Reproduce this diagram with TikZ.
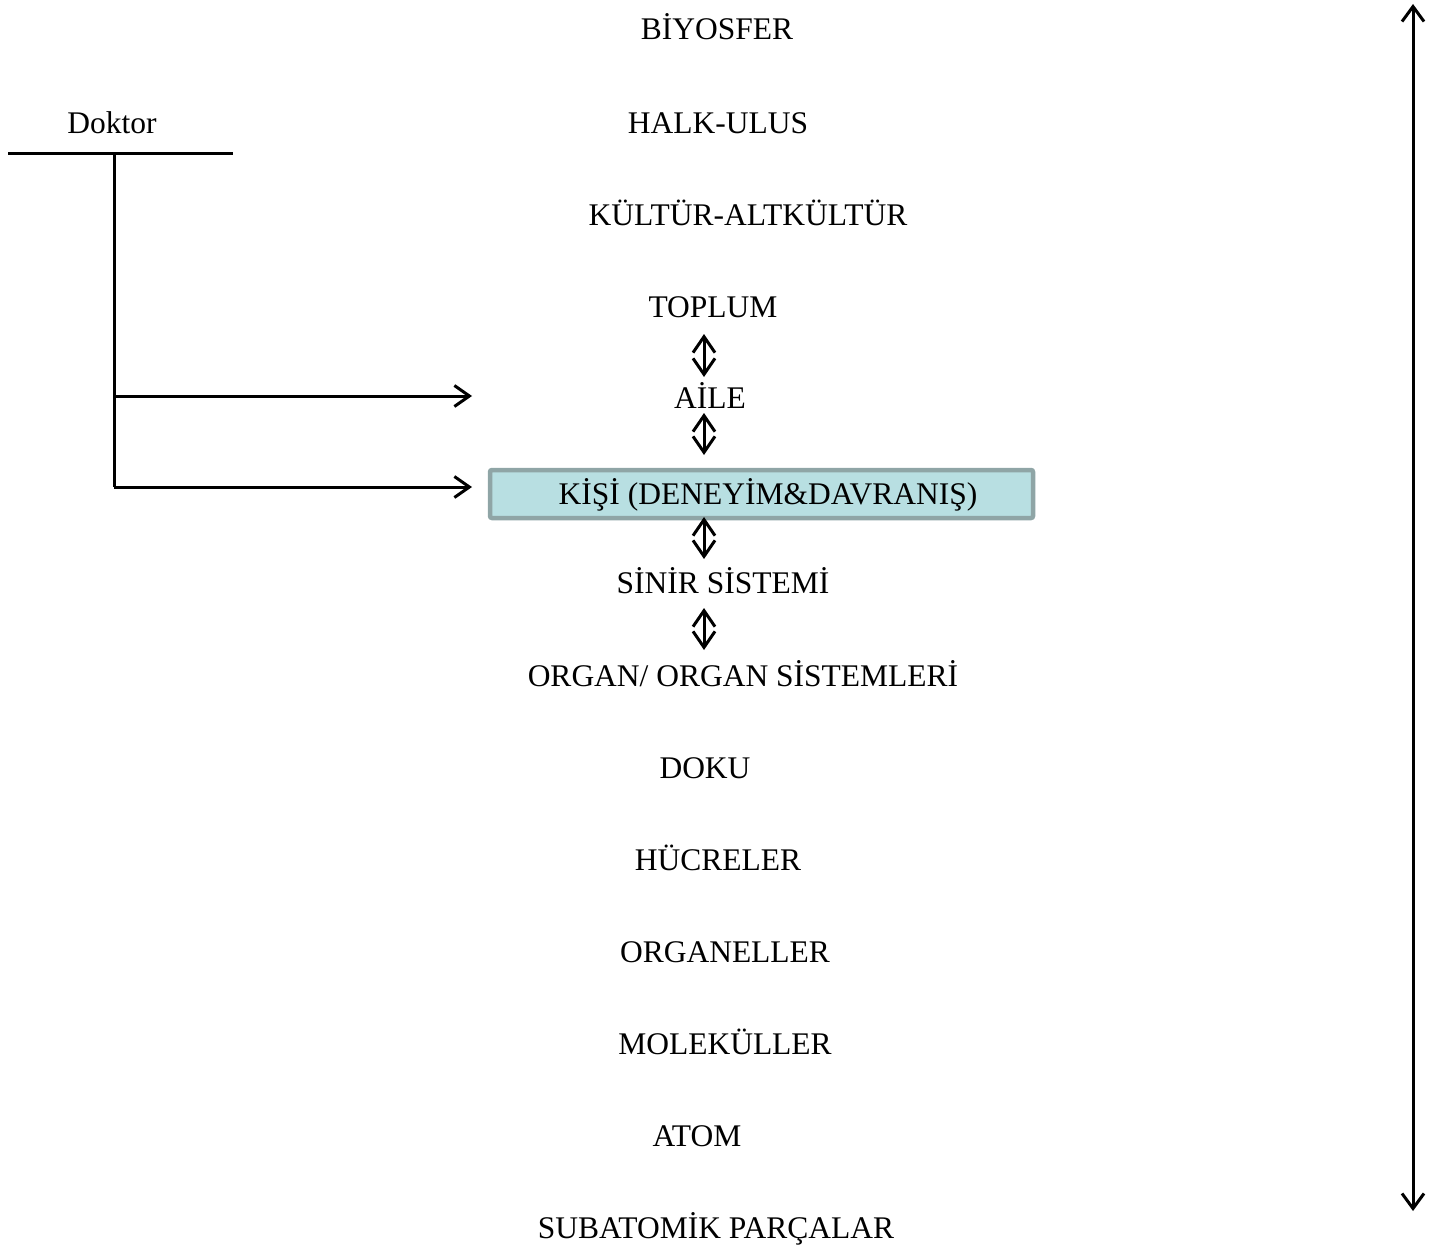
\documentclass[tikz,border=0pt]{standalone}
\usepackage{fontspec}
\setmainfont{Liberation Serif}
\usetikzlibrary{arrows.meta}
\definecolor{boxfill}{HTML}{B8DFE2}
\definecolor{boxline}{HTML}{8FA5A6}
\tikzset{
  lvl/.style={anchor=base, inner sep=0pt, font=\fontsize{31.5}{36}\selectfont},
  dbl/.style={line width=3pt, {Straight Barb[length=16pt,width=22pt]}-{Straight Barb[length=16pt,width=22pt]}},
  tree/.style={line width=3pt},
  treearrow/.style={line width=3pt, -{Straight Barb[length=15pt,width=21pt]}},
  bigarrow/.style={line width=3pt, {Straight Barb[length=15pt,width=22pt]}-{Straight Barb[length=15pt,width=22pt]}},
  kisibox/.style={draw=boxline, fill=boxfill, line width=4.5pt, rounded corners=2pt, minimum width=543pt, minimum height=48pt, inner sep=0pt}
}
\begin{document}
\begin{tikzpicture}[x=1pt,y=-1pt]
\useasboundingbox (0,0) rectangle (1431,1247);
% levels
\node[lvl] (biyosfer) at (717,40) {BİYOSFER};
\node[lvl] (halk) at (718,133) {HALK-ULUS};
\node[lvl] (kultur) at (748,225) {KÜLTÜR-ALTKÜLTÜR};
\node[lvl] (toplum) at (713,317) {TOPLUM};
\node[lvl] (aile) at (710,408) {AİLE};
\node[kisibox] (kisi) at (761.5,494) {};
\node[lvl] (kisitext) at (768,504) {KİŞİ (DENEYİM\&DAVRANIŞ)};
\node[lvl] (sinir) at (723,593) {SİNİR SİSTEMİ};
\node[lvl] (organ) at (743,686) {ORGAN/ ORGAN SİSTEMLERİ};
\node[lvl] (doku) at (705,778) {DOKU};
\node[lvl] (hucre) at (718,870) {HÜCRELER};
\node[lvl] (organel) at (725,962) {ORGANELLER};
\node[lvl] (molekul) at (725,1054) {MOLEKÜLLER};
\node[lvl] (atom) at (697,1146) {ATOM};
\node[lvl] (subatom) at (716,1238) {SUBATOMİK PARÇALAR};
% double arrows between levels
\coordinate (d1a) at (704,334); \coordinate (d1b) at (704,377);
\coordinate (d2a) at (704,413); \coordinate (d2b) at (704,455);
\coordinate (d3a) at (704,517); \coordinate (d3b) at (704,559);
\coordinate (d4a) at (704,608); \coordinate (d4b) at (704,650);
\draw[dbl] (d1a) -- (d1b);
\draw[dbl] (d2a) -- (d2b);
\draw[dbl] (d3a) -- (d3b);
\draw[dbl] (d4a) -- (d4b);
% right scale arrow
\coordinate (scaletop) at (1413,4);
\coordinate (scalebot) at (1413,1211);
\draw[bigarrow] (scaletop) -- (scalebot);
% Doktor tree
\node[lvl] (doktor) at (112,133) {Doktor};
\coordinate (hl) at (8,153);
\coordinate (hr) at (233,153);
\coordinate (vt) at (114,153);
\coordinate (v1) at (114,396);
\coordinate (v2) at (114,487);
\coordinate (t1) at (472,396);
\coordinate (t2) at (472,487);
\draw[tree] (hl) -- (hr);
\draw[tree] (vt) -- (v2);
\draw[treearrow] (v1) -- (t1);
\draw[treearrow] (v2) -- (t2);
\end{tikzpicture}
\end{document}
